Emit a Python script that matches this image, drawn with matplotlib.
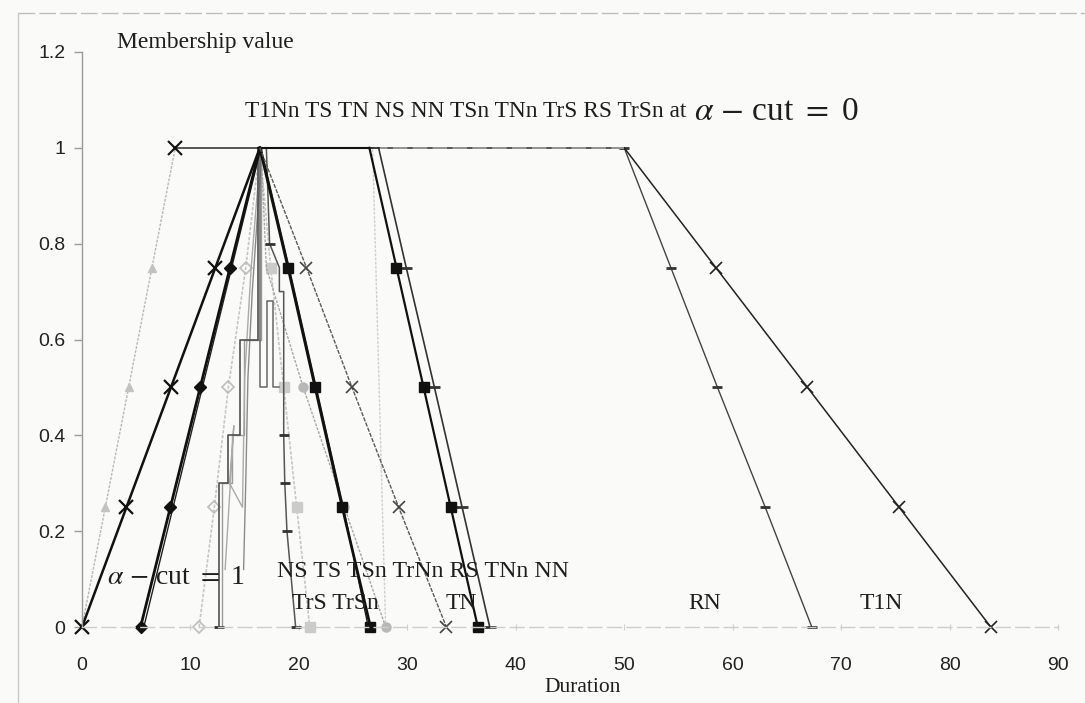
import matplotlib
matplotlib.use("Agg")
import matplotlib.pyplot as plt
from matplotlib.lines import Line2D

# ---------------- data ----------------
y_tri = [0, 0.25, 0.5, 0.75, 1, 0.75, 0.5, 0.25, 0]
y_trap = [0, 0.25, 0.5, 0.75, 1, 1, 0.75, 0.5, 0.25, 0]

T1N_x = [0, 2.15, 4.3, 6.45, 8.6, 50.0, 58.45, 66.9, 75.35, 83.8]
T1N_y = y_trap

T1Nn_x = [0, 4.1, 8.2, 12.3, 16.4, 20.7, 24.9, 29.2, 33.6]
T1Nn_y = y_tri

NS_x = [5.4, 8.15, 10.9, 13.65, 16.4, 19.0, 21.5, 24.0, 26.6]
NS_y = y_tri

NN_x = [5.7, 8.4, 11.1, 13.8, 16.5, 19.1, 21.6, 24.1, 26.4]
NN_y = y_tri

TS_x = [10.8, 12.2, 13.5, 15.1, 16.4, 17.4, 18.6, 19.8, 21.0]
TS_y = y_tri

TSn_x = [16.5, 17.0, 20.4, 24.2, 28.0]
TSn_y = [1, 0.75, 0.5, 0.25, 0]

RS_x = [12.6, 12.6, 13.5, 13.5, 14.6, 14.6, 16.2, 16.2, 26.5, 29.0, 31.5, 34.0, 36.5]
RS_y = [0, 0.3, 0.3, 0.4, 0.4, 0.6, 0.6, 1, 1, 0.75, 0.5, 0.25, 0]

TrSn_x = [12.9, 12.9, 13.8, 13.8, 14.9, 14.9, 16.5, 16.5]
TrSn_y = [0, 0.3, 0.3, 0.4, 0.4, 0.6, 0.6, 1]

TN_x = [19.7, 18.9, 18.7, 18.6, 18.6, 18.2, 18.2, 17.3, 17.0, 27.35, 29.9, 32.5, 35.05, 37.6]
TN_y = [0, 0.2, 0.3, 0.4, 0.7, 0.7, 0.75, 0.8, 1, 1, 0.75, 0.5, 0.25, 0]

TNn_x = [16.4, 16.4, 17.1, 17.1, 17.6, 17.6, 18.2]
TNn_y = [1, 0.5, 0.5, 0.68, 0.68, 0.5, 0.5]

TrNn_x = [13.2, 14.0, 13.6, 14.8, 15.0, 15.6, 16.5]
TrNn_y = [0.12, 0.42, 0.3, 0.25, 0.52, 0.75, 1]

TrS_x = [14.9, 15.1, 15.3, 15.7, 16.6]
TrS_y = [0.12, 0.3, 0.52, 0.7, 1]

RN_x = [28.0, 27.7, 27.4, 27.1, 26.8, 50.0, 54.3, 58.6, 63.0, 67.3]
RN_y = y_trap

x_ticks = [0, 10, 20, 30, 40, 50, 60, 70, 80, 90]
y_ticks = [0, 0.2, 0.4, 0.6, 0.8, 1.0, 1.2]
y_tick_labels = ["0", "0.2", "0.4", "0.6", "0.8", "1", "1.2"]

# ---------------- figure ----------------
plt.rcParams["mathtext.fontset"] = "stix"
W, H = 1085, 703
fig = plt.figure(figsize=(W / 100, H / 100), dpi=100)
fig.patch.set_facecolor("#fafaf8")
ax = fig.add_axes([82 / W, 1 - 627 / H, 976 / W, 575 / H])
ax.set_facecolor("none")
ax.set_xlim(0, 90)
ax.set_ylim(0, 1.2)


def seg(xs, ys, i0, i1, **kw):
    kw.setdefault("clip_on", False)
    ax.plot(xs[i0:i1 + 1], ys[i0:i1 + 1], **kw)


BLK = "#111111"

# RN
seg(RN_x, RN_y, 0, 4, color="#cfcfcf", lw=1.0, ls=(0, (2, 1)))
seg(RN_x, RN_y, 5, 9, color="#444444", lw=1.0,
    marker="_", ms=7, mew=2, mec="#333333", markevery=[0, 1, 2, 3, 4])

# T1N: gray triangles on the left leg, X markers elsewhere
seg(T1N_x, T1N_y, 0, 4, color="#b8b8b8", lw=1.0, ls=(0, (2, 1)),
    marker="^", ms=6, mfc="#c2c2c2", mec="#c2c2c2", markevery=[1, 2, 3])
seg(T1N_x, T1N_y, 4, 5, color="#3a3a3a", lw=1.2)
seg(T1N_x, T1N_y, 5, 9, color="#222222", lw=1.1,
    marker="x", ms=8, mew=1.2, mec="#222222", markevery=[1, 2, 3, 4])
ax.plot([T1N_x[4]], [T1N_y[4]], marker="x", ms=10, mew=1.5, color=BLK, clip_on=False)
# lighter dashed overlay for RN's flat top
seg(RN_x, RN_y, 4, 5, color="#9c9c9c", lw=1.3, ls=(0, (8, 3)))

# TS (light gray)
seg(TS_x, TS_y, 0, 4, color="#c6c6c6", lw=1.2, ls=(0, (2, 1)),
    marker="D", ms=6, mfc="none", mec="#bdbdbd", mew=1.2, markevery=[0, 1, 2, 3])
seg(TS_x, TS_y, 4, 8, color="#c6c6c6", lw=1.2, ls=(0, (2, 1)),
    marker="s", ms=7, mfc="#cbcbcb", mec="#cbcbcb", markevery=[1, 2, 3, 4])

# TSn (gray circles)
ax.plot(TSn_x, TSn_y, color="#a8a8a8", lw=1.0, ls=(0, (2, 1)),
        marker="o", ms=6.5, mfc="#b8b8b8", mec="#b8b8b8", markevery=[2, 3, 4], clip_on=False)

# staircases / zigzags in the middle cluster
ax.plot(TrSn_x, TrSn_y, color="#9a9a9a", lw=1.0, clip_on=False)
ax.plot(TrNn_x, TrNn_y, color="#aaaaaa", lw=1.0, clip_on=False)
ax.plot(TrS_x, TrS_y, color="#8a8a8a", lw=1.0, clip_on=False)
ax.plot(TNn_x, TNn_y, color="#666666", lw=1.1, clip_on=False)

# TN (dash markers)
seg(TN_x, TN_y, 0, 8, color="#555555", lw=1.1,
    marker="_", ms=7, mew=2, mec="#333333", markevery=[0, 1, 2, 3, 7])
seg(TN_x, TN_y, 8, 9, color="#333333", lw=1.2)
seg(TN_x, TN_y, 9, 13, color="#333333", lw=1.2,
    marker="_", ms=8, mew=2, mec="#333333", markevery=[1, 2, 3, 4])

# RS (staircase left leg, black squares right leg)
seg(RS_x, RS_y, 0, 7, color="#505050", lw=1.2,
    marker="_", ms=7, mew=2, mec="#333333", markevery=[0])
seg(RS_x, RS_y, 7, 8, color=BLK, lw=1.5)
seg(RS_x, RS_y, 8, 12, color=BLK, lw=1.6,
    marker="s", ms=7, mfc=BLK, mec=BLK, markevery=[1, 2, 3, 4])

# NN (plain black)
ax.plot(NN_x, NN_y, color="#222222", lw=1.0, clip_on=False)

# NS (diamonds left, squares right)
seg(NS_x, NS_y, 0, 4, color=BLK, lw=2.0,
    marker="D", ms=6, mfc=BLK, mec=BLK, markevery=[0, 1, 2, 3])
seg(NS_x, NS_y, 4, 8, color=BLK, lw=2.0,
    marker="s", ms=7, mfc=BLK, mec=BLK, markevery=[1, 2, 3, 4])

# T1Nn (X markers)
seg(T1Nn_x, T1Nn_y, 0, 4, color=BLK, lw=1.8,
    marker="x", ms=10, mew=1.6, mec=BLK, markevery=[0, 1, 2, 3])
seg(T1Nn_x, T1Nn_y, 4, 8, color="#5a5a5a", lw=1.0, ls=(0, (3, 1)),
    marker="x", ms=8, mew=1.2, mec="#444444", markevery=[1, 2, 3, 4])

# ---------------- axes styling ----------------
for s in ("top", "right"):
    ax.spines[s].set_visible(False)
ax.spines["left"].set_color("#9a9a9a")
ax.spines["left"].set_linewidth(1.0)
ax.spines["bottom"].set_color("#cdcdcd")
ax.spines["bottom"].set_linewidth(1.0)
ax.spines["bottom"].set_linestyle((0, (10, 4)))

ax.set_yticks(y_ticks)
ax.set_yticklabels(y_tick_labels)
ax.set_xticks(x_ticks)
ax.set_xticklabels([str(v) for v in x_ticks])
ax.tick_params(axis="y", direction="out", length=6, width=1, color="#9a9a9a",
               pad=6, labelsize=14, labelcolor="#222222")
ax.tick_params(axis="x", direction="inout", length=5, width=0.8, color="#d0d0d0",
               pad=19, labelsize=14, labelcolor="#222222")
for lab in ax.get_xticklabels() + ax.get_yticklabels():
    lab.set_fontfamily("Liberation Sans")

serif = "Liberation Serif"
tc = "#1e1e1e"
ax.text(3.2, 1.22, "Membership value", fontsize=17, family=serif, color=tc,
        ha="left", va="center")
ax.text(15.0, 1.075, "T1Nn TS TN NS NN TSn TNn TrS RS TrSn at", fontsize=16.8,
        family=serif, color=tc, ha="left", va="center")
ax.text(56.4, 1.075, r"$\alpha$ $-$ cut $=$ 0", fontsize=24, family=serif, color=tc,
        ha="left", va="center")
ax.text(2.3, 0.104, r"$\alpha$ $-$ cut $=$ 1", fontsize=20, family=serif, color=tc,
        ha="left", va="center")
ax.text(18.0, 0.115, "NS TS TSn TrNn RS TNn NN", fontsize=17.2, family=serif,
        color=tc, ha="left", va="center")
ax.text(19.35, 0.05, "TrS TrSn", fontsize=17, family=serif, color=tc,
        ha="left", va="center")
ax.text(33.5, 0.05, "TN", fontsize=17, family=serif, color=tc, ha="left", va="center")
ax.text(55.9, 0.05, "RN", fontsize=17, family=serif, color=tc, ha="left", va="center")
ax.text(71.7, 0.05, "T1N", fontsize=17, family=serif, color=tc, ha="left", va="center")

fig.text(583 / W, 1 - 688 / H, "Duration", fontsize=15.5, family=serif, color=tc,
         ha="center", va="center")

# outer chart border (scan frame)
fig.add_artist(Line2D([18 / W, 1.0], [1 - 13 / H, 1 - 13 / H], transform=fig.transFigure,
                      color="#bdbdbd", lw=1.0, ls=(0, (12, 3))))
fig.add_artist(Line2D([18 / W, 18 / W], [1 - 13 / H, 0.0], transform=fig.transFigure,
                      color="#c8c8c8", lw=1.0))

fig.savefig("out.png", dpi=100, facecolor=fig.get_facecolor())
